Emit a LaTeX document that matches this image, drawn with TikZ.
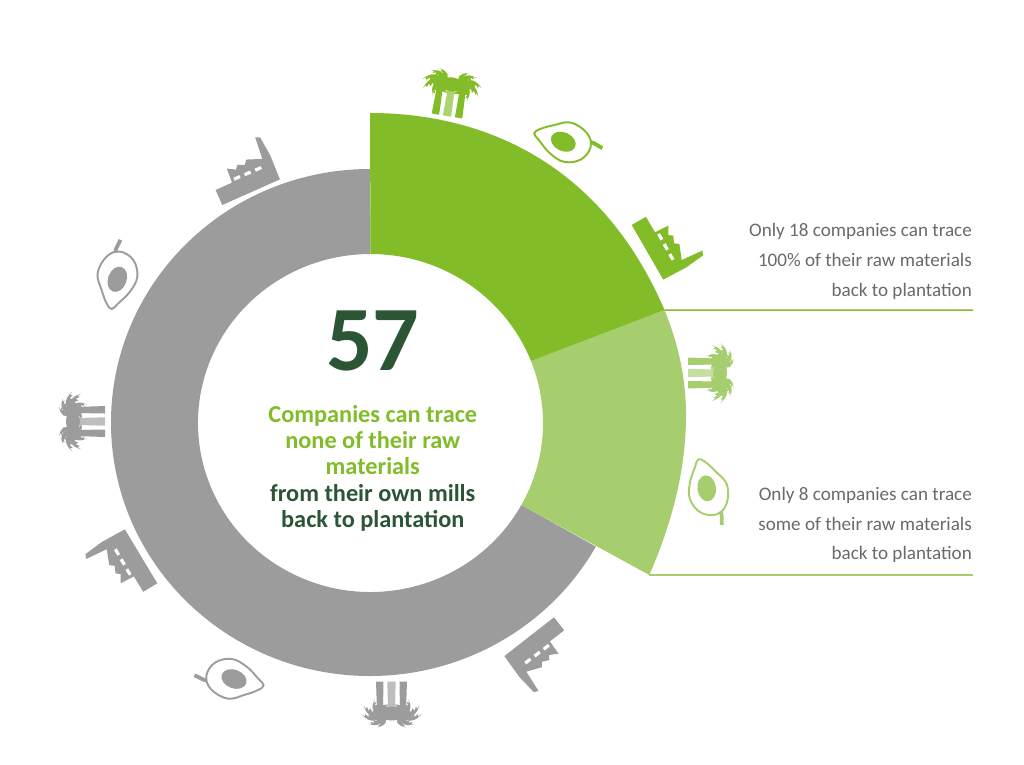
\documentclass[tikz,border=0pt]{standalone}
\usepackage{fontspec}
\setmainfont{Carlito}
\definecolor{grn}{HTML}{82BC28}
\definecolor{lgrn}{HTML}{A6CE6F}
\definecolor{dgrn}{HTML}{2C5535}
\definecolor{ringgray}{HTML}{9C9C9C}
\definecolor{txtgray}{HTML}{6A6A6A}
\newcommand{\myfrond}[5]{% colour, x, y, angle, signed length
  \fill[#1,shift={(#2,#3)},rotate=#4,xscale=#5,yscale=1.1]
    (0,1.6) .. controls (8,7) and (14,5.5) .. (20,-2)
    -- (16.8,.4) -- (16.4,-1.8) -- (13.6,1.1) -- (12.8,-1.6) -- (10,1.3) -- (9,-1.8)
    -- (6,1.3) -- (4.8,-1.8) -- (0,-1.6) -- cycle;}
\tikzset{
  x=1pt,y=1pt,
  sidetext/.style={anchor=base east,inner sep=0pt,font=\fontsize{19.1}{30}\selectfont,text=txtgray},
  midtext/.style={anchor=base,inner sep=0pt,font=\fontsize{24.3}{26}\bfseries\selectfont},
  leader/.style={line width=1.5pt},
  pics/factoryicon/.style={code={
    \fill[#1] (0,0) -- (63,0) -- (64,26) -- (62,46.5) -- (57.5,48.5) -- (55.3,25.8) -- (40.3,31.8) -- (37,27.5) -- (30,30.7)
      -- (27,26.7) -- (18.9,31.4) -- (18,16.5) -- (0,16.5) -- cycle;
    \fill[white] (21.2,17.2) rectangle (27.8,20.4) (32.7,17) rectangle (39.3,20.2) (44.2,16.8) rectangle (50.8,20);
  }},
  pics/avocadoicon/.style={code={
    \draw[#1,line width=1.9pt] plot[smooth cycle,tension=.65] coordinates
      {(-5.7,-29.7) (-10.7,-24) (-15.7,-10.7) (-19.7,6) (-10.7,22.7) (2.7,27.7) (16,19.3) (20,2.7) (12.7,-12.3) (1,-24)};
    \draw[#1,line width=3.8pt] (-2,27) .. controls (-1.5,32) and (1.5,35) .. (3,39.5);
    \fill[#1,rotate=-20] (0,0) ellipse[x radius=9.3,y radius=13];
  }},
  pics/palmicon/.style={code={
    \fill[#1] (-15.5,0) -- (-8,0) -- (-8.5,29) -- (-14.5,29) -- cycle;
    \fill[#1] (8,0) -- (15.5,0) -- (14.5,29) -- (8.5,29) -- cycle;
    \fill[#1,fill opacity=.65] (-4.2,0) -- (4.2,0) -- (3.5,27) -- (-3.5,27) -- cycle;
    \fill[#1] (0,32) ellipse[x radius=12,y radius=7];
    \foreach \a/\l in {5/1.05,-20/1.05,-55/.85,-85/.7,-115/.6,40/.85,75/.7}{
      \myfrond{#1}{9}{33}{\a}{\l}
      \myfrond{#1}{-9}{33}{-\a}{-\l}
    }
  }}
}
\begin{document}
\begin{tikzpicture}
\useasboundingbox (0,-764) rectangle (1024,0);
\fill[white] (0,-764) rectangle (1024,0);
\coordinate (c) at (370,-422);
\coordinate (cring) at (370,-422.5);
\coordinate (cin) at (370.5,-423);
\coordinate (darkcorner) at (664.5,-310);
\coordinate (lightcorner) at (649.3,-575);
% ring and sectors
\fill[ringgray] ([shift={(90:259 and 253.5)}]cring) arc[start angle=90,end angle=330.7,x radius=259,y radius=253.5]
  -- ([shift={(331:172.5 and 169)}]cin) arc[start angle=331,end angle=90,x radius=172.5,y radius=169] -- cycle;
\fill[lgrn] (darkcorner) .. controls (678,-343) and (686,-378) .. (686,-415)
  .. controls (686,-472) and (671,-525) .. (lightcorner)
  -- ([shift={(-29:172.5 and 169)}]cin) arc[start angle=-29,end angle=21.5,x radius=172.5,y radius=169] -- cycle;
\fill[grn] ([shift={(90:316 and 309)}]c) .. controls (480,-113) and (600,-160) .. (darkcorner)
  -- ([shift={(21.5:172.5 and 169)}]cin) arc[start angle=21.5,end angle=90,x radius=172.5,y radius=169] -- cycle;
% leaders
\coordinate (darkend) at (973,-310.2);
\coordinate (lightend) at (973,-575);
\draw[leader,grn] (darkcorner) -- (darkend);
\draw[leader,lgrn] (lightcorner) -- (lightend);
% icons
\pic[rotate=-9] at (447,-116) {palmicon=grn};
\pic[rotate=-95] at (563.3,-141.7) {avocadoicon=grn};
\pic[rotate=-60] at (631.7,-225) {factoryicon=grn};
\pic[rotate=-90] at (688,-373) {palmicon=lgrn};
\pic[rotate=-153] at (706.7,-488.3) {avocadoicon=lgrn};
\pic[rotate=-142] at (554,-617.3) {factoryicon=ringgray};
\pic[rotate=180] at (391.5,-681.5) {palmicon=ringgray};
\pic[rotate=89] at (234,-679) {avocadoicon=ringgray};
\pic[rotate=121] at (157.3,-583.3) {factoryicon=ringgray};
\pic[rotate=90] at (105,-421.5) {palmicon=ringgray};
\pic at (117.3,-279.3) {avocadoicon=ringgray};
\pic[rotate=24] at (222.3,-205) {factoryicon=ringgray};
% texts
\node[anchor=base,inner sep=0pt,font=\fontsize{92}{92}\bfseries\selectfont,text=dgrn] (num) at (372.8,-370) {57};
\node[midtext,text=grn] (m1) at (372.8,-422.5) {Companies can trace};
\node[midtext,text=grn] (m2) at (372.8,-448.5) {none of their raw};
\node[midtext,text=grn] (m3) at (372.8,-474.8) {materials};
\node[midtext,text=dgrn] (m4) at (372.8,-501.4) {from their own mills};
\node[midtext,text=dgrn] (m5) at (372.8,-527.5) {back to plantation};
\node[sidetext] (a1) at (972,-236.7) {Only 18 companies can trace};
\node[sidetext] (a2) at (972,-266.7) {100\% of their raw materials};
\node[sidetext] (a3) at (972,-296) {back to plantation};
\node[sidetext] (b1) at (972,-500) {Only 8 companies can trace};
\node[sidetext] (b2) at (972,-530) {some of their raw materials};
\node[sidetext] (b3) at (972,-559) {back to plantation};
\end{tikzpicture}
\end{document}
